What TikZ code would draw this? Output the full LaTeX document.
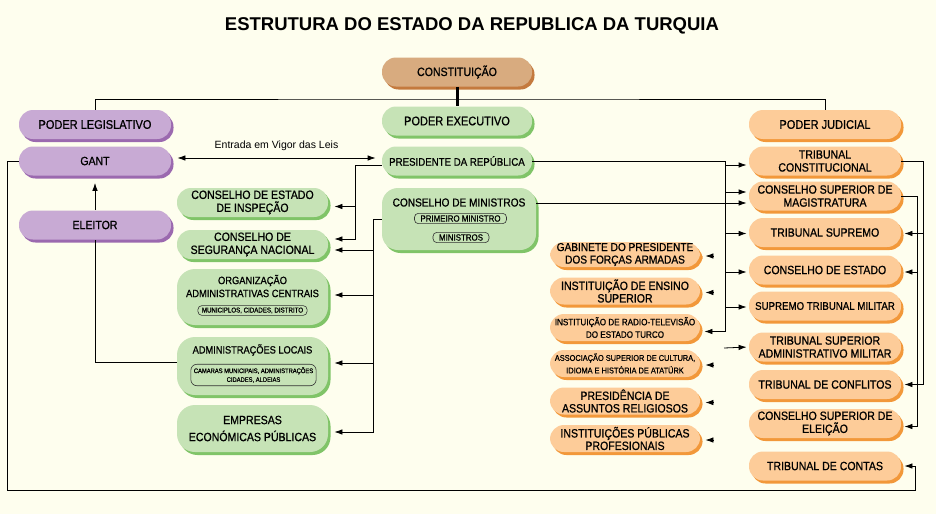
\documentclass[tikz,border=0pt]{standalone}
\usepackage{fontspec}
\setmainfont{Liberation Sans}
\newfontfamily\boxfont[FakeStretch=0.88, FakeBold=0.8]{Liberation Sans}
\usepackage{xcolor}
\usepackage{tikz}
\usetikzlibrary{shadows,arrows.meta}

\definecolor{paper}{RGB}{254,254,238}
\definecolor{legfill}{RGB}{200,170,212}
\definecolor{legshade}{RGB}{155,105,175}
\definecolor{exefill}{RGB}{198,227,182}
\definecolor{exeshade}{RGB}{128,196,104}
\definecolor{judfill}{RGB}{253,204,153}
\definecolor{judshade}{RGB}{242,152,58}
\definecolor{constfill}{RGB}{216,171,127}
\definecolor{constshade}{RGB}{196,122,62}

\newcommand\bsz[2]{\boxfont\fontsize{#1}{#2}\selectfont}

\begin{document}
\begin{tikzpicture}[x=1pt, y=-1pt, line width=0.8pt,
    >={Latex[length=8pt,width=5.5pt]},
    pill/.style={rounded corners=14pt, minimum width=152pt, minimum height=29pt,
        inner sep=1pt, align=center, font=\bsz{12}{13}},
    legis/.style={pill, fill=legfill,
        drop shadow={shadow xshift=2.5pt, shadow yshift=-3pt, fill=legshade, opacity=1}},
    exe/.style={pill, fill=exefill,
        drop shadow={shadow xshift=2.5pt, shadow yshift=-3pt, fill=exeshade, opacity=1}},
    jud/.style={pill, fill=judfill,
        drop shadow={shadow xshift=2.5pt, shadow yshift=-3pt, fill=judshade, opacity=1}},
    constbox/.style={pill, minimum width=150pt, fill=constfill,
        drop shadow={shadow xshift=2.5pt, shadow yshift=-3pt, fill=constshade, opacity=1}},
    inbox/.style={draw=black!80, line width=0.6pt, rounded corners=4pt, fill=exefill,
        inner xsep=6pt, inner ysep=2pt, align=center, font=\bsz{9}{10}},
    arr/.style={->, shorten >=4pt}]

    \fill[paper] (0, 0) rectangle (936, 514);
    \useasboundingbox (0, 0) rectangle (936, 514);

    \node[font=\fontsize{18.5}{20}\selectfont\bfseries] (title) at (472, 26) {ESTRUTURA DO ESTADO DA REPUBLICA DA TURQUIA};

    \node[constbox] (const) at (457, 72) {CONSTITUIÇÃO};

    % legislativo
    \node[legis, font=\bsz{12.5}{13}] (legis) at (95, 124.5) {PODER LEGISLATIVO};
    \node[legis] (gant) at (95, 161) {GANT};
    \node[legis] (eleitor) at (95, 225) {ELEITOR};

    % executivo
    \node[exe, minimum width=150pt, font=\bsz{12.5}{13}] (exec) at (457, 121) {PODER EXECUTIVO};
    \node[exe, minimum width=150pt, font=\bsz{11}{13}] (pres) at (457, 161) {PRESIDENTE DA REPÚBLICA};
    \node[exe, rounded corners=16pt, minimum width=154pt, minimum height=62pt] (minist) at (459, 219) {};
    \node[font=\bsz{11.5}{13}, inner sep=0pt] (minlbl) at (459, 202.5) {CONSELHO DE MINISTROS};
    \node[inbox] (prim) at (460.5, 218.5) {PRIMEIRO MINISTRO};
    \node[inbox] (mins) at (461, 237.5) {MINISTROS};

    \node[exe, minimum width=151pt] (insp) at (252.5, 202.5) {CONSELHO DE ESTADO\\DE INSPEÇÃO};
    \node[exe, minimum width=151pt] (seg) at (252.5, 244.5) {CONSELHO DE\\SEGURANÇA NACIONAL};
    \node[exe, rounded corners=18pt, minimum width=151pt, minimum height=56pt] (org) at (252.5, 297) {};
    \node[font=\bsz{10.6}{13}, align=center, inner sep=0pt] (orglbl) at (252.5, 286) {ORGANIZAÇÃO\\ADMINISTRATIVAS CENTRAIS};
    \node[inbox, inner xsep=4pt, font=\bsz{7}{8}] (mun) at (252.5, 310.5) {MUNICIPLOS, CIDADES, DISTRITO};
    \node[exe, rounded corners=18pt, minimum width=151pt, minimum height=58pt] (locais) at (252.5, 366) {};
    \node[font=\bsz{10.5}{13}, inner sep=0pt] (locaislbl) at (252.5, 350) {ADMINISTRAÇÕES LOCAIS};
    \node[inbox, inner xsep=3pt, inner ysep=3pt, rounded corners=6pt, font=\bsz{6.6}{8.8}] (cam) at (253.5, 375) {CAMARAS MUNICIPAIS, ADMINISTRAÇÕES\\CIDADES, ALDEIAS};
    \node[exe, rounded corners=18pt, minimum width=151pt, minimum height=47pt, font=\bsz{12}{17}] (empresas) at (252.5, 428.5) {EMPRESAS\\ECONÓMICAS PÚBLICAS};

    \node[jud, minimum width=150pt, minimum height=25pt, font=\bsz{11.5}{12.5}] (gab) at (625, 254.5) {GABINETE DO PRESIDENTE\\DOS FORÇAS ARMADAS};
    \node[jud, minimum width=150pt, minimum height=27pt, font=\bsz{12}{12.5}] (ens) at (625, 291) {INSTITUIÇÃO DE ENSINO\\SUPERIOR};
    \node[jud, minimum width=150pt, minimum height=27pt, font=\bsz{9.2}{12.5}] (radio) at (625, 327.5) {INSTITUIÇÃO DE RADIO-TELEVISÃO\\DO ESTADO TURCO};
    \node[jud, minimum width=150pt, minimum height=27pt, font=\bsz{8.4}{12.5}] (assoc) at (625, 363.5) {ASSOCIAÇÃO SUPERIOR DE CULTURA,\\IDIOMA E HISTÓRIA DE ATATÜRK};
    \node[jud, minimum width=150pt, minimum height=27pt, font=\bsz{12}{12.5}] (presid) at (625, 401) {PRESIDÊNCIA DE\\ASSUNTOS RELIGIOSOS};
    \node[jud, minimum width=150pt, minimum height=27pt, font=\bsz{12}{12.5}] (publ) at (625, 438.5) {INSTITUIÇÕES PÚBLICAS\\PROFESIONAIS};

    % judicial
    \node[jud, font=\bsz{12.5}{13}] (judicial) at (825, 124.5) {PODER JUDICIAL};
    \node[jud] (constit) at (825, 161) {TRIBUNAL\\CONSTITUCIONAL};
    \node[jud] (magis) at (825, 196) {CONSELHO SUPERIOR DE\\MAGISTRATURA};
    \node[jud] (supremo) at (825, 232.5) {TRIBUNAL SUPREMO};
    \node[jud] (estado) at (825, 270) {CONSELHO DE ESTADO};
    \node[jud, font=\bsz{11}{13}] (supmil) at (825, 306) {SUPREMO TRIBUNAL MILITAR};
    \node[jud] (admil) at (825, 347) {TRIBUNAL SUPERIOR\\ADMINISTRATIVO MILITAR};
    \node[jud] (conflitos) at (825, 384.5) {TRIBUNAL DE CONFLITOS};
    \node[jud] (eleicao) at (825, 423.5) {CONSELHO SUPERIOR DE\\ELEIÇÃO};
    \node[jud] (contas) at (825, 466) {TRIBUNAL DE CONTAS};

    \coordinate (bus) at (457, 99);
    \draw (legis.north) |- (bus) -| (judicial.north);
    \draw[line width=3pt] (const.south) -- (exec.north);

    \draw[<->, shorten <=6pt, shorten >=6pt] ([yshift=3pt]gant.east) -- node[above=4pt, font=\fontsize{10.5}{12}\selectfont] (vigor) {Entrada em Vigor das Leis} ([yshift=3pt]pres.west);

    \coordinate (pbus) at (355, 165);
    \draw ([yshift=-4pt]pres.west) -- (pbus);
    \draw[arr, shorten >=6pt] (pbus) |- ([yshift=-4pt]insp.east);
    \draw[arr, shorten >=6pt] (pbus) |- ([yshift=5.5pt]seg.east);

    \coordinate (mbus) at (373, 219);
    \draw (minist.west) -- (mbus);
    \foreach \n/\s in {seg/-5.5pt, org/2pt, locais/3pt, empresas/-3.5pt}
        \draw[arr, shorten >=6pt] (mbus) |- ([yshift=\s]\n.east);

    \draw ([yshift=4pt]locais.west) -| (eleitor.south);
    \draw[arr, shorten >=7pt] (eleitor.north) -- (gant.south);

    \coordinate (loopl) at (7, 490);
    \coordinate (loopr) at (915, 490);
    \draw[arr, shorten >=3pt] (gant.west) -| (loopl) -- (loopr) |- (contas.east);

    \coordinate (rbus) at (725, 161);
    \draw (pres.east) -- (rbus);
    \foreach \n/\s in {constit/-4pt, magis/4pt, supremo/-1pt, estado/-2pt, supmil/-1pt}
        \draw[arr, shorten >=2pt] (rbus) |- ([yshift=\s]\n.west);
    \draw[arr] (rbus) |- ([yshift=-4pt]radio.east);
    \coordinate (stub) at (724, 348);
    \draw[arr, shorten >=2pt] (stub) -- (admil.west);

    \coordinate (magin) at ([yshift=-7pt]magis.west);
    \draw[arr, shorten >=2pt] (magin -| minist.east) -- (magin);

    \coordinate (cbus) at (923, 161);
    \draw (constit.east) -- (cbus);
    \draw[arr, shorten >=3pt] (cbus) |- ([yshift=-1pt]supremo.east);
    \draw[arr, shorten >=3pt] (cbus) |- (conflitos.east);
    \coordinate (gbus) at (917, 196);
    \draw (magis.east) -- (gbus);
    \draw[arr, shorten >=3pt] (gbus) |- ([yshift=-2pt]estado.east);
    \draw[arr, shorten >=3pt] (gbus) |- ([yshift=-3pt]eleicao.east);

    \foreach \n in {gab, ens, assoc, presid, publ}
        \draw[->] ([xshift=13pt, yshift=-1.5pt]\n.east) -- ([xshift=5pt, yshift=-1.5pt]\n.east);
\end{tikzpicture}
\end{document}
